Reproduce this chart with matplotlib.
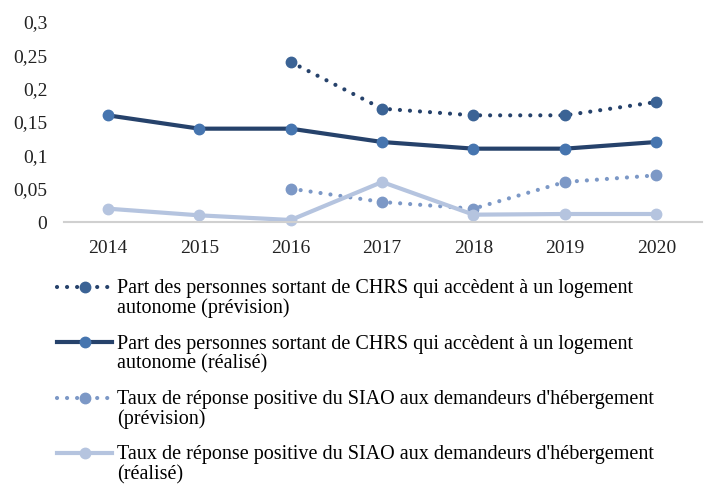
import numpy as np
import matplotlib.pyplot as plt
from matplotlib.legend_handler import HandlerLine2D

plt.rcParams['font.family'] = ['Liberation Serif', 'DejaVu Serif']

years = [2014, 2015, 2016, 2017, 2018, 2019, 2020]
years_prev = [2016, 2017, 2018, 2019, 2020]

chrs_prev = [0.24, 0.17, 0.16, 0.16, 0.18]
chrs_real = [0.16, 0.14, 0.14, 0.12, 0.11, 0.11, 0.12]
siao_prev = [0.05, 0.03, 0.02, 0.06, 0.07]
siao_real = [0.02, 0.01, 0.003, 0.06, 0.011, 0.012, 0.012]

labels = [
    "Part des personnes sortant de CHRS qui accèdent à un logement\nautonome (prévision)",
    "Part des personnes sortant de CHRS qui accèdent à un logement\nautonome (réalisé)",
    "Taux de réponse positive du SIAO aux demandeurs d'hébergement\n(prévision)",
    "Taux de réponse positive du SIAO aux demandeurs d'hébergement\n(réalisé)",
]


class FirstLineHandler(HandlerLine2D):
    # put the legend handle next to the first text line, not in the middle
    def create_artists(self, legend, orig_handle, xdescent, ydescent,
                       width, height, fontsize, trans):
        return super().create_artists(legend, orig_handle, xdescent, ydescent - 17,
                                       width, height, fontsize, trans)


fig = plt.figure(figsize=(7.26, 4.93), dpi=100)
ax = fig.add_axes([64 / 726, 1 - 222 / 493, (702 - 64) / 726, 200 / 493])

dots = (0, (0.01, 2.4))
h1, = ax.plot(years_prev, chrs_prev, color='#26426B', lw=3, ls=dots,
              dash_capstyle='round', marker='o', ms=7.5, mfc='#3B6395', mec='#3B6395')
h2, = ax.plot(years, chrs_real, color='#26426B', lw=3,
              marker='o', ms=7.5, mfc='#4675AF', mec='#4675AF')
h3, = ax.plot(years_prev, siao_prev, color='#7C98C6', lw=3, ls=dots,
              dash_capstyle='round', marker='o', ms=7.5, mfc='#7C98C6', mec='#7C98C6')
h4, = ax.plot(years, siao_real, color='#B5C4DF', lw=3,
              marker='o', ms=7.5, mfc='#B5C4DF', mec='#B5C4DF')

ax.set_xlim(2013.52, 2020.5)
ax.set_ylim(0, 0.3)
ax.set_xticks(years)
ax.set_yticks(np.arange(0, 0.31, 0.05))
ax.set_yticklabels(['0', '0,05', '0,1', '0,15', '0,2', '0,25', '0,3'])
ax.tick_params(length=0, labelsize=14, colors='#222222')
ax.tick_params(axis='x', pad=13)
ax.tick_params(axis='y', pad=12)
for side in ['top', 'right', 'left']:
    ax.spines[side].set_visible(False)
ax.spines['bottom'].set_color('#D0D0D0')
ax.spines['bottom'].set_linewidth(1.5)
for h in [h1, h2, h3, h4]:
    h.set_clip_on(False)

leg = fig.legend([h1, h2, h3, h4], labels, loc='upper left',
                 bbox_to_anchor=(57 / 726, 1 - 279 / 493), frameon=False,
                 fontsize=14.5, handlelength=2.75, handletextpad=0.25,
                 labelspacing=0.8, borderaxespad=0, borderpad=0,
                 handler_map={h: FirstLineHandler() for h in [h1, h2, h3, h4]})
for t in leg.get_texts():
    t.set_linespacing(1.05)

fig.savefig('out.png', dpi=100)
